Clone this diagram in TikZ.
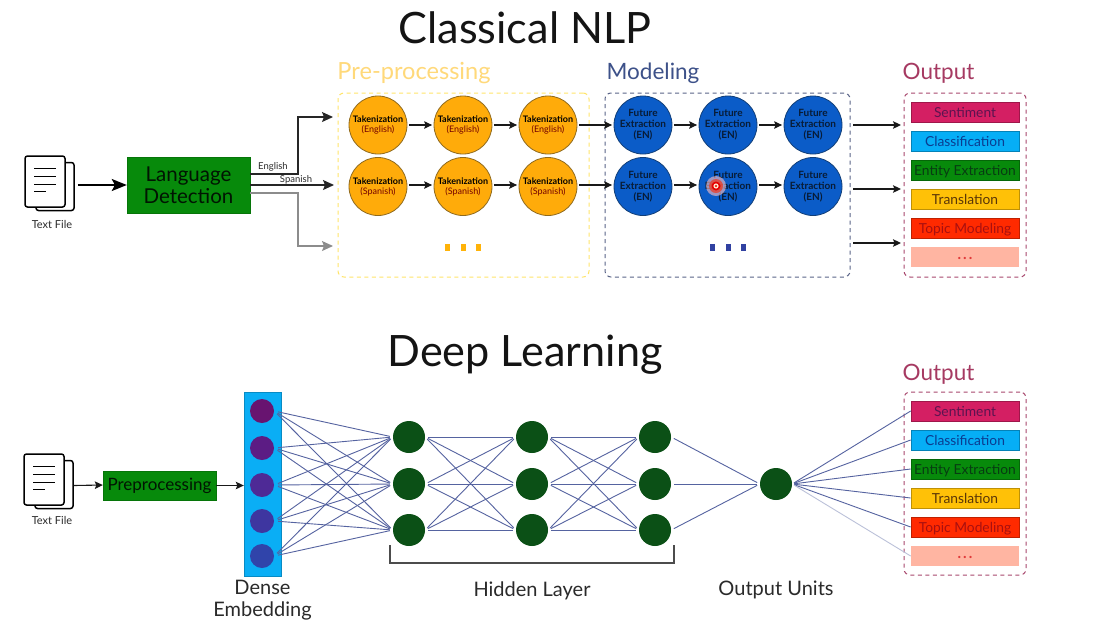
\documentclass[tikz,border=0pt]{standalone}
\usepackage{fontspec}
\setmainfont{Lato}
\usetikzlibrary{arrows.meta,calc}
\definecolor{txtdark}{HTML}{2A2A2A}
\definecolor{boxgreen}{HTML}{078A0B}
\definecolor{tokfill}{HTML}{FFAB0A}
\definecolor{tokline}{HTML}{8F6A1E}
\definecolor{feafill}{HTML}{0B5CC8}
\definecolor{fealine}{HTML}{123F78}
\definecolor{prehead}{HTML}{FFD97A}
\definecolor{prebox}{HTML}{FFE56B}
\definecolor{modhead}{HTML}{3D5189}
\definecolor{modbox}{HTML}{5A6488}
\definecolor{outhead}{HTML}{A63A62}
\definecolor{outbox}{HTML}{A8486E}
\definecolor{netline}{HTML}{5563A0}
\definecolor{netnode}{HTML}{0B5016}
\definecolor{embfill}{HTML}{0AAEF5}
\definecolor{sentc}{HTML}{D41F63}\definecolor{sentt}{HTML}{5C1450}
\definecolor{clasc}{HTML}{06AEF6}\definecolor{clast}{HTML}{0B3C90}
\definecolor{entic}{HTML}{078A0B}\definecolor{entit}{HTML}{083C12}
\definecolor{tranc}{HTML}{FFC107}\definecolor{trant}{HTML}{5A3608}
\definecolor{topic}{HTML}{FF2A00}\definecolor{topit}{HTML}{A81010}
\definecolor{morec}{HTML}{FFB5A2}\definecolor{moret}{HTML}{E03A3A}
\newcommand{\fsz}[1]{\fontsize{#1}{#1}\selectfont}
\tikzset{
  x=1pt,y=-1pt,
  bigtitle/.style={text=black!92,font=\fsz{43.2}},
  head/.style={font=\fsz{22.5},inner sep=0pt},
  smalltext/.style={text=txtdark,font=\fsz{11},inner sep=0pt},
  captext/.style={text=txtdark,font=\fsz{20},inner sep=0pt,align=center},
  group/.style={draw=#1,dashed,dash pattern=on 4pt off 3.5pt,line width=1pt,rounded corners=6pt},
  token/.style={circle,draw=tokline,fill=tokfill,line width=.8pt,minimum size=58pt,inner sep=0pt,align=center,font=\fsz{9}\bfseries,text=black},
  feature/.style={circle,draw=fealine,fill=feafill,line width=.8pt,minimum size=58pt,inner sep=0pt,align=center,font=\fsz{10}\bfseries,text=fealine!45!black},
  greenbox/.style={draw=boxgreen!85!black,fill=boxgreen,inner sep=0pt,align=center,text=black!85!boxgreen},
  outcell/.style={minimum width=108pt,minimum height=20pt,inner sep=0pt,font=\fsz{13.8},line width=.7pt,text height=13pt,text depth=3pt},
  dotmark/.style={minimum width=5pt,minimum height=7pt,inner sep=0pt,fill=#1},
  flow/.style={draw=black!90,line width=1.1pt,-{Stealth[length=8pt,width=7.5pt,inset=1.5pt]}},
  bigflow/.style={draw=black,line width=1.5pt,-{Stealth[length=15pt,width=12pt,inset=3pt]}},
  route/.style={draw=#1,line width=1.2pt,-{Stealth[length=11pt,width=10pt,inset=2pt]}},
  route/.default=black!85,
  net/.style={draw=netline,line width=.9pt},
  netcircle/.style={circle,fill=netnode,minimum size=32pt,inner sep=0pt},
  pics/docicon/.style={code={
    \node[draw=black,fill=white,line width=1.5pt,rounded corners=2.5pt,minimum width=38pt,minimum height=48pt,inner sep=0pt] (-back) at (10,5) {};
    \node[draw=black,fill=white,line width=1.5pt,rounded corners=2.5pt,minimum width=40pt,minimum height=51pt,inner sep=0pt] (-front) at (0,0) {};
    \draw[line width=1.8pt] (-11,-13) -- (11,-13) (-11,-5) -- (11,-5) (-11,3) -- (11,3) (-11,10) -- (1,10);
  }}
}
\begin{document}
\begin{tikzpicture}
\useasboundingbox (0,0) rectangle (1107,638);
\fill[white] (0,0) rectangle (1107,638);

% --- upper pipeline -------------------------------------------------
\node[bigtitle] (titleA) at (525,28) {Classical NLP};
\node[head,text=prehead,font=\fsz{23.6}] (headPre) at (414,73.5) {Pre-processing};
\node[head,text=modhead] (headMod) at (653,73.5) {Modeling};
\node[head,text=outhead] (headOutA) at (938.5,73.5) {Output};

\node[group=prebox,minimum width=251pt,minimum height=184pt,inner sep=0pt] (grpPre) at (463.5,185) {};
\node[group=modbox,minimum width=245pt,minimum height=184pt,inner sep=0pt] (grpMod) at (727.5,185) {};
\node[group=outbox,minimum width=122pt,minimum height=184pt,inner sep=0pt] (grpOutA) at (965,185) {};

\pic (docA) at (45,181.5) {docicon};
\node[smalltext] (docAlabel) at (52,224) {Text File};
\node[greenbox,minimum width=123pt,minimum height=56pt,font=\fsz{20.5}] (detect) at (188.5,185) {Language\\[2pt]Detection};
\draw[bigflow] ([xshift=3pt,yshift=1.5pt]docA-back.east) -- (detect.west);

\coordinate (inEn) at (333,117);
\coordinate (inEs) at (334,185);
\coordinate (inOther) at (333,246);
\draw[route] ([yshift=11pt]detect.east) -| (298,117) -- (inEn);
\draw[route] (detect.east) -- (inEs);
\draw[route=black!45] ([yshift=-8pt]detect.east) -| (298,246) -- (inOther);
\node[smalltext,font=\fsz{9.5}] (lblEn) at (273,167) {English};
\node[smalltext,font=\fsz{9.5}] (lblEs) at (296,180) {Spanish};

% circles of the two language rows
\foreach \c/\x in {1/378,2/463,3/548}{
  \node[token] (te\c) at (\x,125) {Takenization\\[1pt]{\mdseries\color{black!55!red}(English)}};
  \node[token] (ts\c) at (\x,186.5) {Takenization\\[1pt]{\mdseries\color{black!55!red}(Spanish)}};
}
\foreach \c/\x in {1/643,2/728,3/813}{
  \node[feature] (fe\c) at (\x,125) {Future\\[1pt]Extraction\\[1pt](EN)};
  \node[feature] (fs\c) at (\x,186.5) {Future\\[1pt]Extraction\\[1pt](EN)};
}
\foreach \p/\q in {te1/te2,te2/te3,te3/fe1,fe1/fe2,fe2/fe3}{
  \draw[flow,shorten <=1.5pt,shorten >=1.5pt] (\p.east) -- (\q.west);
}
\foreach \p/\q in {ts1/ts2,ts2/ts3,ts3/fs1,fs1/fs2,fs2/fs3}{
  \draw[flow,shorten <=1.5pt,shorten >=1.5pt] ([yshift=1.5pt]\p.east) -- ([yshift=1.5pt]\q.west);
}
\foreach \n/\x in {a/447,b/463,c/478}{\node[dotmark=tokfill!90!yellow] (preDot\n) at (\x,247) {};}
\foreach \n/\x in {a/712,b/728,c/743}{\node[dotmark=modhead!80!blue] (modDot\n) at (\x,247) {};}

% pointer highlight resting on the lower middle circle
\fill[red!25!white,opacity=.6] (716,186) circle (10);
\fill[red!70!orange,opacity=.6] (716,186) circle (7);
\fill[red!90!black] (716,186) circle (4.5);
\fill[white!80!orange] (716,186) circle (2.6);
\fill[red!90!black] (716,186) circle (1.2);

% output list, shared by both pipelines
\foreach \pre/\top in {A/112,B/411}{
  \foreach \i/\t/\s in {0/Sentiment/sent,1/Classification/clas,2/Entity Extraction/enti,3/Translation/tran,4/Topic Modeling/topi}{
    \node[outcell,fill=\s c,draw=\s c!75!black,text=\s t] (out\pre\i) at (965,\top+29*\i) {\t};
  }
  \node[outcell,fill=morec,text=moret] (out\pre5) at (965,\top+145) {\raisebox{3pt}{\bfseries\fsz{15}.\kern2pt.\kern2pt.}};
}
\coordinate (endA) at (901,125);
\coordinate (endB) at (901,189);
\coordinate (endC) at (901,243);
\draw[flow] ([xshift=11pt]fe3.east) -- (endA);
\draw[flow] ([xshift=11pt,yshift=-2.5pt]fs3.east) -- (endB);
\coordinate (startC) at (853,243);
\draw[flow] (startC) -- (endC);

% --- lower pipeline -------------------------------------------------
\node[bigtitle] (titleB) at (525,355) {Deep Learning};
\node[head,text=outhead] (headOutB) at (938.5,374.5) {Output};
\node[group=outbox,minimum width=122pt,minimum height=183pt,inner sep=0pt] (grpOutB) at (965,483.5) {};

\pic (docB) at (44,479.5) {docicon};
\node[smalltext] (docBlabel) at (52,520) {Text File};
\node[greenbox,minimum width=113pt,minimum height=29pt,font=\fsz{17}] (prep) at (159.5,485.5) {Preprocessing};
\node[draw=embfill!80!black,fill=embfill,minimum width=37pt,minimum height=184pt,inner sep=0pt] (emb) at (262.5,484) {};
\draw[flow] ([yshift=-1pt]docB-back.east) -- ([yshift=.5pt]prep.west);
\draw[flow] (prep.east) -- ([yshift=-1.5pt]emb.west);

\foreach \i/\y/\r/\g/\b in {1/411/104/20/112,2/448/92/28/132,3/485/78/42/150,4/521/62/54/160,5/556/48/68/170}{
  \definecolor{embshade}{RGB}{\r,\g,\b}
  \node[circle,fill=embshade,minimum size=24pt,inner sep=0pt] (e\i) at (262,\y) {};
}
\foreach \j/\x in {1/409,2/532,3/655}{
  \foreach \k/\y in {1/437,2/484,3/530}{
    \node[netcircle] (h\j\k) at (\x,\y) {};
  }
}
\node[netcircle] (unit) at (776,484) {};

\foreach \i in {1,...,5}{
  \foreach \k in {1,2,3}{
    \draw[net,shorten <=4pt,shorten >=3pt] (e\i.east) -- (h1\k.west);
  }
}
\foreach \a/\b in {1/2,2/3}{
  \foreach \k in {1,2,3}{
    \foreach \m in {1,2,3}{
      \draw[net,shorten <=3pt,shorten >=3pt] (h\a\k.east) -- (h\b\m.west);
    }
  }
}
\foreach \k in {1,2,3}{
  \draw[net,shorten <=3pt,shorten >=3pt] (h3\k.east) -- (unit.west);
}
\foreach \i in {0,...,4}{
  \draw[net,shorten <=2pt] (unit.east) -- (outB\i.west);
}
\draw[net,draw=netline!40,shorten <=2pt] (unit.east) -- (outB5.west);

\coordinate (brL) at (390,545);
\coordinate (brR) at (674,545);
\draw[draw=black!70,line width=1.2pt] (brL) -- (390,563) -- (674,563) -- (brR);
\node[captext] (lblEmb) at (262.5,600) {Dense\\[2pt]Embedding};
\node[captext] (lblHid) at (532,591) {Hidden Layer};
\node[captext] (lblUnit) at (776,590) {Output Units};
\end{tikzpicture}
\end{document}
